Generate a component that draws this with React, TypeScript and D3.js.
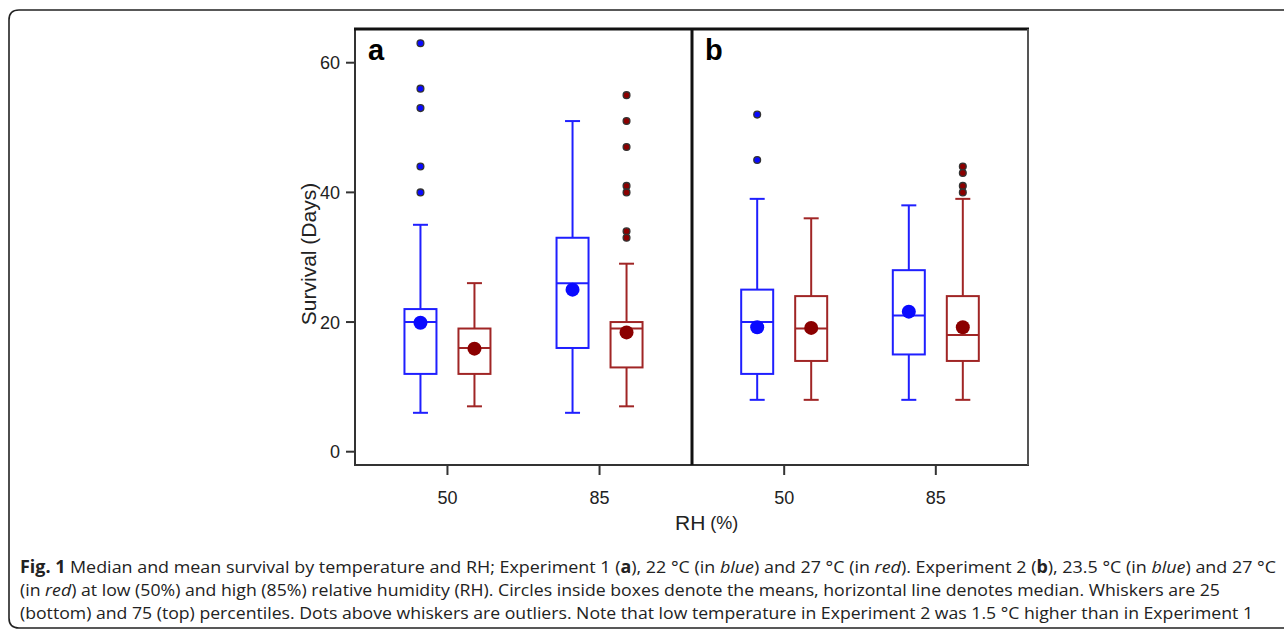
import React from "react";
import * as d3 from "d3";

// ---------- data ----------
const panels = ["a", "b"];
const rhLevels = ["50", "85"];
const yTicks = [0, 20, 40, 60];
// stats: [whiskerLow, q1, median, q3, whiskerHigh]
const aBlueStats = [[6, 12, 20, 22, 35], [6, 16, 26, 33, 51]];
const aBlueMean = [19.9, 25.0];
const aBlueOutliers = [[63, 56, 53, 44, 40], []];
const aRedStats = [[7, 12, 16, 19, 26], [7, 13, 19, 20, 29]];
const aRedMean = [15.9, 18.4];
const aRedOutliers = [[], [55, 51, 47, 41, 40, 34, 33]];
const bBlueStats = [[8, 12, 20, 25, 39], [8, 15, 21, 28, 38]];
const bBlueMean = [19.2, 21.6];
const bBlueOutliers = [[52, 45], []];
const bRedStats = [[8, 14, 19, 24, 36], [8, 14, 18, 24, 39]];
const bRedMean = [19.1, 19.2];
const bRedOutliers = [[], [44, 43, 41, 40]];

const series = [
  { panel: "a", group: "low", stats: aBlueStats, mean: aBlueMean, outliers: aBlueOutliers },
  { panel: "a", group: "high", stats: aRedStats, mean: aRedMean, outliers: aRedOutliers },
  { panel: "b", group: "low", stats: bBlueStats, mean: bBlueMean, outliers: bBlueOutliers },
  { panel: "b", group: "high", stats: bRedStats, mean: bRedMean, outliers: bRedOutliers },
];

const COLORS: Record<string, { stroke: string; dot: string }> = {
  low: { stroke: "#1f1fff", dot: "#0a0aff" },
  high: { stroke: "#a02525", dot: "#8b0000" },
};

export default function App() {
  const W = 1284, H = 630;
  const top = 29, bottom = 465;
  const left = 355, mid = 692, right = 1028;
  const y = d3.scaleLinear().domain([-2.05, 65.2]).range([bottom, top]);
  const xPanel: Record<string, d3.ScalePoint<string>> = {
    a: d3.scalePoint<string>().domain(rhLevels).range([left, mid]).padding(0.608),
    b: d3.scalePoint<string>().domain(rhLevels).range([mid, right]).padding(0.608),
  };
  const off = d3.scalePoint<string>().domain(["low", "high"]).range([-27, 27]);
  const boxW = 32, capW = 15;
  const font = "'Liberation Sans', Arial, sans-serif";
  const capFont = "'Open Sans', 'Noto Sans', sans-serif";

  return (
    <svg width={W} height={H} style={{ position: "absolute", left: 0, top: 0, background: "#fff" }}>
      {/* outer frame */}
      <path d={`M1300,10 L19,10 Q9,10 9,20 L9,618 Q9,628 19,628 L1300,628`} fill="none" stroke="#222" strokeWidth={1.6} />

      {/* boxes */}
      {series.map((s, si) =>
        rhLevels.map((rh, i) => {
          const cx = (xPanel[s.panel](rh) as number) + (off(s.group) as number);
          const [wl, q1, md, q3, wh] = s.stats[i];
          const c = COLORS[s.group];
          return (
            <g key={`${si}-${i}`}>
              <line x1={cx} x2={cx} y1={y(wh)} y2={y(q3)} stroke={c.stroke} strokeWidth={2} />
              <line x1={cx} x2={cx} y1={y(q1)} y2={y(wl)} stroke={c.stroke} strokeWidth={2} />
              <line x1={cx - capW / 2} x2={cx + capW / 2} y1={y(wh)} y2={y(wh)} stroke={c.stroke} strokeWidth={2} />
              <line x1={cx - capW / 2} x2={cx + capW / 2} y1={y(wl)} y2={y(wl)} stroke={c.stroke} strokeWidth={2} />
              <rect x={cx - boxW / 2} y={y(q3)} width={boxW} height={y(q1) - y(q3)} fill="none" stroke={c.stroke} strokeWidth={2} />
              <line x1={cx - boxW / 2} x2={cx + boxW / 2} y1={y(md)} y2={y(md)} stroke={c.stroke} strokeWidth={2} />
              <circle cx={cx} cy={y(s.mean[i])} r={7} fill={c.dot} />
              {s.outliers[i].map((v, k) => (
                <circle key={k} cx={cx} cy={y(v)} r={3.4} fill={c.dot} stroke="#333" strokeWidth={1.3} />
              ))}
            </g>
          );
        })
      )}

      {/* axes frame */}
      <line x1={left} x2={left} y1={top} y2={bottom} stroke="#333" strokeWidth={2} />
      <line x1={left - 1} x2={right + 1} y1={bottom} y2={bottom} stroke="#333" strokeWidth={2} />
      <line x1={left - 1} x2={right + 1} y1={top} y2={top} stroke="#111" strokeWidth={3} />
      <line x1={mid} x2={mid} y1={top} y2={bottom} stroke="#111" strokeWidth={3} />
      <line x1={right} x2={right} y1={top} y2={bottom} stroke="#555" strokeWidth={2} />

      {/* y ticks */}
      {yTicks.map((t) => (
        <g key={t}>
          <line x1={left - 9} x2={left} y1={y(t)} y2={y(t)} stroke="#333" strokeWidth={2} />
          <text x={left - 15} y={y(t) + 6.5} textAnchor="end" fontFamily={font} fontSize={18} fill="#222">{t}</text>
        </g>
      ))}
      {/* x ticks */}
      {panels.map((p) =>
        rhLevels.map((rh) => {
          const x = xPanel[p](rh) as number;
          return (
            <g key={p + rh}>
              <line x1={x} x2={x} y1={bottom} y2={bottom + 10} stroke="#333" strokeWidth={2} />
              <text x={x} y={504} textAnchor="middle" fontFamily={font} fontSize={18} fill="#222">{rh}</text>
            </g>
          );
        })
      )}

      {/* panel letters */}
      <text x={368} y={60} fontFamily={font} fontWeight="bold" fontSize={29} fill="#000">a</text>
      <text x={705} y={60} fontFamily={font} fontWeight="bold" fontSize={29} fill="#000">b</text>

      {/* axis titles */}
      <text transform={`translate(316,254) rotate(-90)`} textAnchor="middle" fontFamily={font} fontSize={21} fill="#222">Survival (Days)</text>
      <text x={675} y={530} fontFamily={font} fontSize={21} fill="#222">RH<tspan fontSize={18} dy={-1}> (%)</tspan></text>

      {/* caption */}
      <g fontFamily={capFont} fontSize={17} fill="#222">
        <text x={20} y={573} textLength={1256} lengthAdjust="spacingAndGlyphs">
          <tspan fontWeight="bold">Fig. 1</tspan> Median and mean survival by temperature and RH; Experiment 1 (<tspan fontWeight="bold">a</tspan>), 22 °C (in <tspan fontStyle="italic">blue</tspan>) and 27 °C (in <tspan fontStyle="italic">red</tspan>). Experiment 2 (<tspan fontWeight="bold">b</tspan>), 23.5 °C (in <tspan fontStyle="italic">blue</tspan>) and 27 °C
        </text>
        <text x={20} y={596} textLength={1200} lengthAdjust="spacingAndGlyphs">
          (in <tspan fontStyle="italic">red</tspan>) at low (50%) and high (85%) relative humidity (RH). Circles inside boxes denote the means, horizontal line denotes median. Whiskers are 25
        </text>
        <text x={20} y={619} textLength={1233} lengthAdjust="spacingAndGlyphs">
          (bottom) and 75 (top) percentiles. Dots above whiskers are outliers. Note that low temperature in Experiment 2 was 1.5 °C higher than in Experiment 1
        </text>
      </g>
    </svg>
  );
}
